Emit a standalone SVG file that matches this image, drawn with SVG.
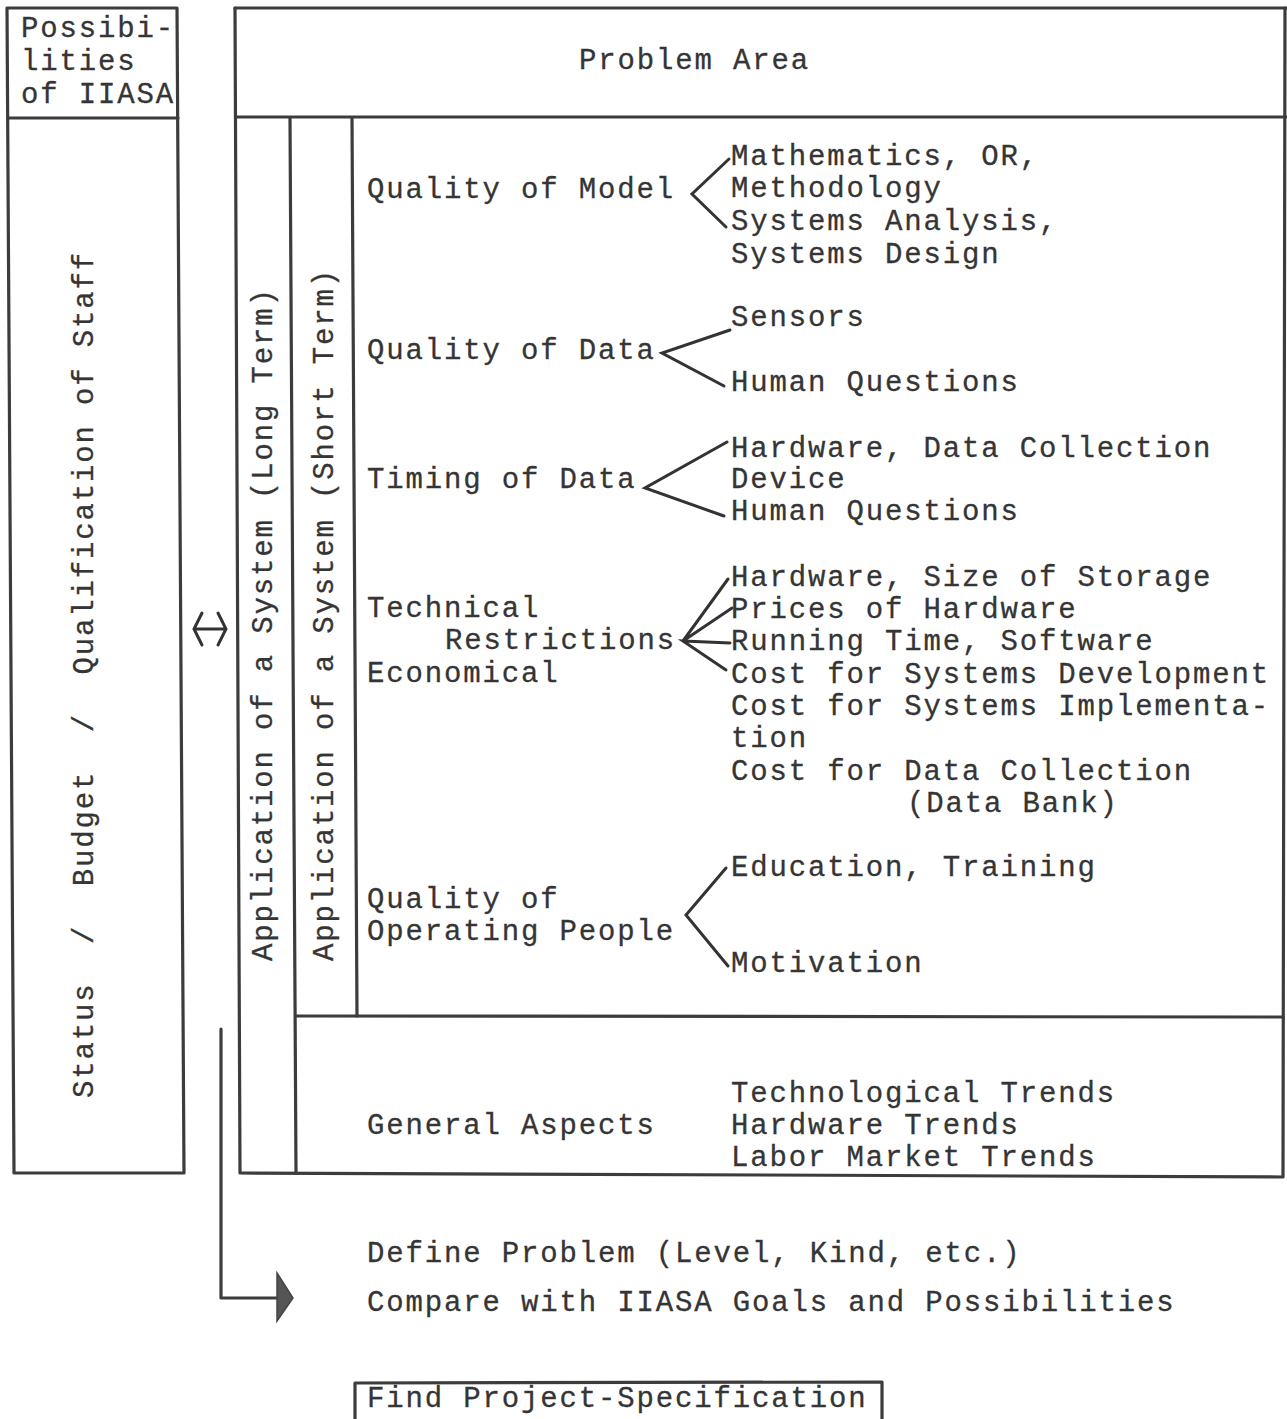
<svg xmlns="http://www.w3.org/2000/svg" width="1287" height="1419" viewBox="0 0 1287 1419">
  <style>
    .t { font-family: "Liberation Mono", "Courier New", monospace; font-size: 29px; letter-spacing: 1.85px; fill: #353535; stroke: #353535; stroke-width: 0.3; white-space: pre; }
    .ln { fill: none; stroke: #3c3c3c; stroke-width: 3.2; stroke-linecap: round; stroke-linejoin: round; }
    .br { fill: none; stroke: #333; stroke-width: 3; stroke-linecap: round; }
  </style>
  <rect width="1287" height="1419" fill="#ffffff"/>

  <!-- Left column: possibilities of IIASA -->
  <g id="possibilities">
    <path class="ln" d="M7 8 L177 8 L184 1173 L14 1173 Z"/>
    <path class="ln" d="M8 118 L178 118"/>
    <text class="t" x="21" y="37">Possibi-</text>
    <text class="t" x="21" y="70">lities</text>
    <text class="t" x="21" y="103">of IIASA</text>
    <text class="t" transform="translate(93 1098) rotate(-90)">Status  /  Budget  /  Qualification of Staff</text>
  </g>

  <!-- Main frame: problem area -->
  <g id="problem-area">
    <path class="ln" d="M235 8 L1287 8"/>
    <path class="ln" d="M235 8 L240 1173 L1283 1177 L1285 8"/>
    <path class="ln" d="M236 117 L1287 117"/>
    <text class="t" x="579" y="69">Problem Area</text>
  </g>

  <!-- Long-term column -->
  <g id="long-term">
    <path class="ln" d="M290 118 L296 1173"/>
    <text class="t" transform="translate(272 961) rotate(-90)">Application of a System (Long Term)</text>
  </g>

  <!-- Short-term column -->
  <g id="short-term">
    <path class="ln" d="M352 118 L357 1016"/>
    <text class="t" transform="translate(333 961) rotate(-90)">Application of a System (Short Term)</text>
  </g>

  <!-- Quality of model -->
  <g id="quality-model">
    <text class="t" x="367" y="198">Quality of Model</text>
    <text class="t" x="731" y="165">Mathematics, OR,</text>
    <text class="t" x="731" y="197">Methodology</text>
    <text class="t" x="731" y="230">Systems Analysis,</text>
    <text class="t" x="731" y="263">Systems Design</text>
  </g>

  <!-- Quality of data -->
  <g id="quality-data">
    <text class="t" x="367" y="359">Quality of Data</text>
    <text class="t" x="731" y="326">Sensors</text>
    <text class="t" x="731" y="391">Human Questions</text>
  </g>

  <!-- Timing of data -->
  <g id="timing-data">
    <text class="t" x="367" y="488">Timing of Data</text>
    <text class="t" x="731" y="457">Hardware, Data Collection</text>
    <text class="t" x="731" y="488">Device</text>
    <text class="t" x="731" y="520">Human Questions</text>
  </g>

  <!-- Technical / economical restrictions -->
  <g id="restrictions">
    <text class="t" x="367" y="617">Technical</text>
    <text class="t" x="445" y="649">Restrictions</text>
    <text class="t" x="367" y="682">Economical</text>
    <text class="t" x="731" y="586">Hardware, Size of Storage</text>
    <text class="t" x="731" y="618">Prices of Hardware</text>
    <text class="t" x="731" y="650">Running Time, Software</text>
    <text class="t" x="731" y="683">Cost for Systems Development</text>
    <text class="t" x="731" y="715">Cost for Systems Implementa-</text>
    <text class="t" x="731" y="747">tion</text>
    <text class="t" x="731" y="780">Cost for Data Collection</text>
    <text class="t" x="907" y="812">(Data Bank)</text>
  </g>

  <!-- Quality of operating people -->
  <g id="quality-people">
    <text class="t" x="367" y="908">Quality of</text>
    <text class="t" x="367" y="940">Operating People</text>
    <text class="t" x="731" y="876">Education, Training</text>
    <text class="t" x="731" y="972">Motivation</text>
  </g>

  <!-- General aspects -->
  <g id="general-aspects">
    <path class="ln" d="M296 1016 L1283 1017"/>
    <text class="t" x="367" y="1134">General Aspects</text>
    <text class="t" x="731" y="1102">Technological Trends</text>
    <text class="t" x="731" y="1134">Hardware Trends</text>
    <text class="t" x="731" y="1166">Labor Market Trends</text>
  </g>

  <!-- Follow-up steps -->
  <g id="define-problem">
    <text class="t" x="367" y="1262">Define Problem (Level, Kind, etc.)</text>
    <text class="t" x="367" y="1311">Compare with IIASA Goals and Possibilities</text>
  </g>

  <g id="project-specification">
    <path class="ln" d="M355 1421 L355 1383 L882 1382 L882 1421"/>
    <text class="t" x="367" y="1407">Find Project-Specification</text>
  </g>

  <!-- Connectors: fan brackets and arrows -->
  <g id="connectors">
    <path class="br" d="M729 159 L692 194 L726 227"/>
    <path class="br" d="M730 330 L662 353 L724 386"/>
    <path class="br" d="M727 442 L645 488 L724 516"/>
    <path class="br" d="M728 579 L683 641 M732 608 L683 641 M730 643 L683 641 L726 670"/>
    <path class="br" d="M726 868 L686 915 L728 966"/>
    <!-- two-way exchange between possibilities and problem area -->
    <path class="br" stroke-width="4" d="M202 613 L194 629 L202 645 M218 613 L226 629 L218 645 M196 629 L224 629"/>
    <!-- flow from the analysis down to the next steps -->
    <path class="ln" d="M221 1029 L221 1298 L280 1298"/>
    <path d="M277 1273 L293 1298 L277 1321 Z" fill="#555" stroke="#444" stroke-width="1.5"/>
  </g>
</svg>
